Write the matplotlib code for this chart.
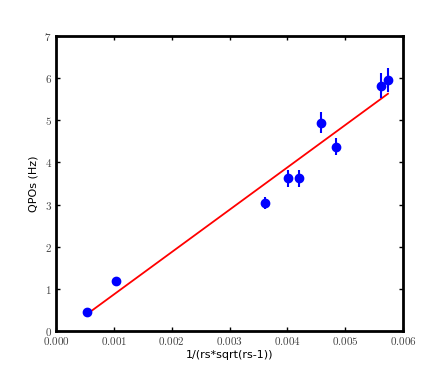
import matplotlib
matplotlib.use("Agg")
import matplotlib.pyplot as plt
from matplotlib.ticker import FuncFormatter, MultipleLocator

plt.rcParams['mathtext.fontset'] = 'cm'

x_vals = [0.000536, 0.00104, 0.00361, 0.00401, 0.00420, 0.00458, 0.00484, 0.00562, 0.00574]
y_vals = [0.45, 1.19, 3.04, 3.62, 3.62, 4.94, 4.37, 5.82, 5.96]
y_err = [0.0, 0.0, 0.15, 0.2, 0.2, 0.25, 0.2, 0.3, 0.28]
fit_x = [0.000536, 0.00574]
fit_y = [0.40, 5.63]

fig = plt.figure(figsize=(4.47, 3.69), dpi=100)
ax = fig.add_axes([56/447, 1-331/369, (403-56)/447, (331-36)/369])

ax.plot(fit_x, fit_y, color='red', lw=1.3, zorder=2)
ax.errorbar(x_vals, y_vals, yerr=y_err, fmt='o', color='blue', ms=6,
            elinewidth=1.5, capsize=0, zorder=3)

ax.set_xlim(0, 0.006)
ax.set_ylim(0, 7)
ax.xaxis.set_major_locator(MultipleLocator(0.001))
ax.yaxis.set_major_locator(MultipleLocator(1))
ax.xaxis.set_major_formatter(FuncFormatter(lambda v, p: r'$%.3f$' % v))
ax.yaxis.set_major_formatter(FuncFormatter(lambda v, p: r'$%d$' % round(v)))
ax.tick_params(direction='in', length=3, width=1, top=True, right=True,
               labelsize=8, labelcolor='#444444', pad=3)
for s in ax.spines.values():
    s.set_linewidth(2)

ax.set_xlabel('1/(rs*sqrt(rs-1))', fontsize=8, labelpad=2)
ax.set_ylabel('QPOs (Hz)', fontsize=8, labelpad=4)

fig.savefig('out.png', dpi=100)
